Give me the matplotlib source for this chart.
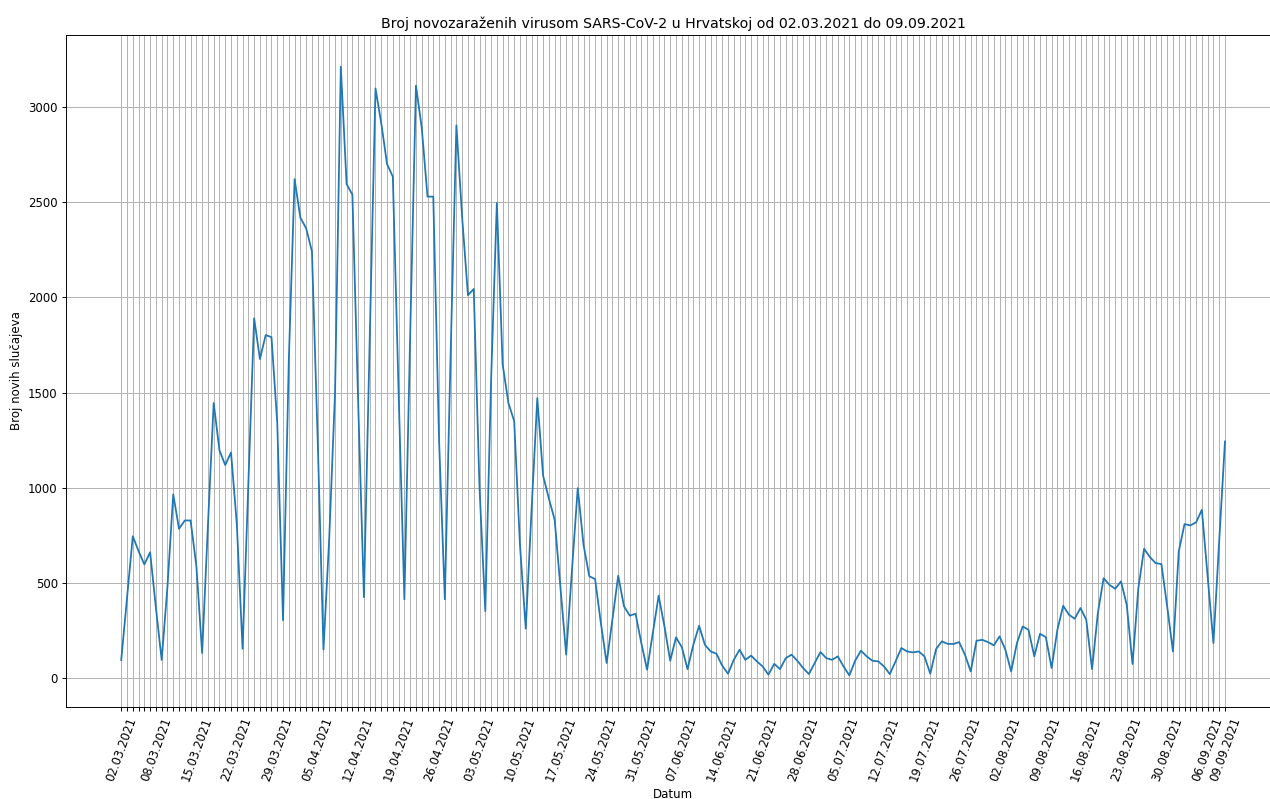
import matplotlib
matplotlib.use("Agg")
import matplotlib.pyplot as plt
import pandas as pd

# Daily new SARS-CoV-2 cases in Croatia, 02.03.2021 - 09.09.2021
start_date = "2021-03-02"
end_date = "2021-09-09"
new_cases = [
    95, 420, 745, 667, 597, 661, 370, 95, 480, 965,
    784, 828, 828, 590, 132, 800, 1445, 1196, 1119, 1185,
    810, 154, 1030, 1890, 1676, 1802, 1791, 1340, 304, 1670,
    2621, 2418, 2363, 2242, 1250, 150, 740, 1500, 3211, 2595,
    2540, 1450, 425, 1780, 3097, 2914, 2700, 2634, 1500, 414,
    1800, 3112, 2892, 2529, 2529, 1250, 414, 1700, 2903, 2418,
    2011, 2044, 1000, 352, 1560, 2496, 1648, 1445, 1350, 700,
    260, 880, 1471, 1064, 943, 833, 480, 123, 568, 998,
    700, 535, 520, 289, 79, 307, 538, 377, 328, 338,
    184, 44, 237, 433, 272, 91, 214, 163, 47, 175,
    275, 175, 140, 128, 65, 23, 96, 149, 96, 118,
    88, 61, 18, 75, 47, 105, 123, 91, 53, 21,
    79, 137, 105, 96, 114, 61, 14, 91, 144, 114,
    91, 88, 61, 21, 88, 158, 140, 135, 140, 114,
    23, 152, 193, 180, 179, 189, 123, 35, 196, 201,
    189, 172, 219, 149, 35, 184, 271, 254, 114, 233,
    215, 53, 254, 380, 333, 312, 368, 306, 47, 341,
    525, 490, 469, 508, 385, 74, 470, 679, 636, 604,
    599, 376, 140, 665, 809, 802, 818, 884, 534, 184,
    720, 1243,
]

dates = pd.date_range(start_date, end_date, freq="D")
labels = dates.strftime("%d.%m.%Y")

# Label the first day, every Monday and the last day
shown = set([labels[0], labels[-1]]) | set(labels[dates.weekday == 0])
tick_labels = [lab if lab in shown else "" for lab in labels]

plt.rcParams["font.family"] = ["DejaVu Sans"]
plt.rcParams["font.size"] = 10

DPI = 85
fig = plt.figure(figsize=(1270 / DPI, 799 / DPI), dpi=DPI)
ax = fig.add_axes([0.052, 0.1151, 0.956, 0.8411])

x = list(range(len(dates)))
ax.plot(x, new_cases, color="#1f77b4", linewidth=1.5)

ax.set_xticks(x)
ax.set_xticklabels(tick_labels, rotation=70)
ax.set_xlim(-0.05 * (len(x) - 1), (len(x) - 1) * 1.05)
ax.set_ylim(-152, 3378)
ax.grid(True)

ax.set_title("Broj novozaraženih virusom SARS-CoV-2 u Hrvatskoj od 02.03.2021 do 09.09.2021",
             fontsize=12)
ax.set_xlabel("Datum")
ax.set_ylabel("Broj novih slučajeva")

fig.savefig("out.png", dpi=DPI, facecolor="white")
